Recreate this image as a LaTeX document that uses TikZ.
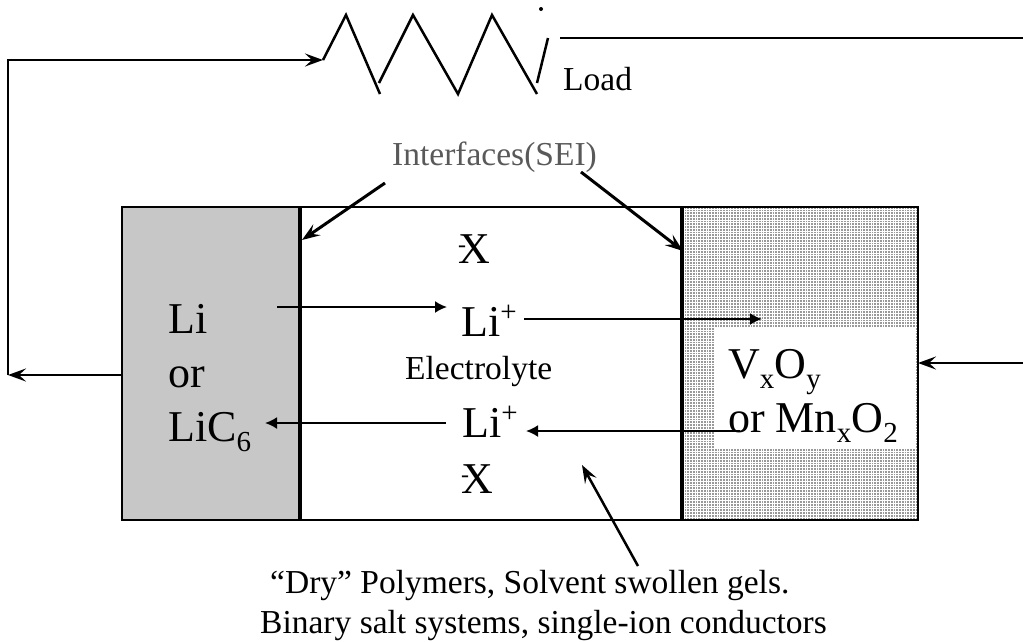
\documentclass[tikz,border=0pt]{standalone}
\usepackage{fontspec}
\setmainfont{Liberation Serif}
\usetikzlibrary{arrows.meta}
\newcommand{\bigtext}{\fontsize{44}{50}\selectfont}
\newcommand{\midtext}{\fontsize{33.5}{38}\selectfont}
\newcommand{\iup}[1]{\raisebox{15pt}{\fontsize{29}{30}\selectfont #1}}
\newcommand{\idn}[1]{\raisebox{-10pt}{\fontsize{29}{30}\selectfont #1}}
\newcommand{\dashX}{\rlap{\raisebox{11pt}{\fontsize{24}{24}\selectfont -}}X}
\tikzset{%
  >={Stealth[width=13pt,length=18pt,inset=7pt]},
  % Specifications for style of nodes:
        base/.style = {rectangle, draw=black, line width=2pt, outer sep=0pt},
       anode/.style = {base, minimum width=178pt, minimum height=313pt, fill=black!22},
      middle/.style = {base, minimum width=382pt, minimum height=313pt, fill=white},
     cathode/.style = {base, minimum width=236pt, minimum height=313pt, fill=black!40},
       label/.style = {inner sep=0pt, anchor=base west, font=\bigtext},
       small/.style = {inner sep=0pt, anchor=base west, font=\midtext},
        wire/.style = {line width=2.5pt},
         ion/.style = {line width=2pt, -{Latex[width=12pt,length=12pt]}},
}

\begin{document}
\begin{tikzpicture}[x=1pt, y=-1pt]
  \useasboundingbox (0,0) rectangle (1023,641);
  % Specification of nodes (position, etc.)
  \node (anodeBox)     [anode]   at (211,363.5) {};
  \node (electrolyte)  [middle]  at (491,363.5) {};
  \node (cathodeBox)   [cathode] at (800,363.5) {};

  % grid of the cathode
  \foreach \gx in {684,686.75,...,917}
    \draw[white, line width=1pt] (\gx,208) -- (\gx,519);
  \foreach \gy in {209,211.75,...,519}
    \draw[white, line width=1pt] (683,\gy) -- (917,\gy);
  \draw[line width=2pt] (cathodeBox.north west) rectangle (cathodeBox.south east);

  \node (cathodeText) [fill=white, minimum width=202pt, minimum height=120pt, outer sep=0pt] at (815,388) {};

  \draw[line width=3.5pt] (anodeBox.north east) -- (anodeBox.south east);
  \draw[line width=3.5pt] (cathodeBox.north west) -- (cathodeBox.south west);

  \node (li)      [label] at (168,333) {Li};
  \node (or)      [label] at (168,387) {or};
  \node (lic)     [label] at (168,441) {LiC\idn{6}};
  \node (vxoy)    [label] at (728,378) {V\idn{x}O\idn{y}};
  \node (mnxo)    [label] at (728,432) {or Mn\idn{x}O\idn{2}};
  \node (liTop)   [label] at (461,336) {Li\iup{+}};
  \node (liBot)   [label] at (462,437) {Li\iup{+}};
  \node (xTop)    [label] at (458,263) {\dashX};
  \node (xBot)    [label] at (461,493) {\dashX};
  \node (electrolyteText) [small] at (405,379) {Electrolyte};
  \node (load)      [small] at (563,90) {Load};
  \node (interfaces)[small, text=black!65] at (392,165) {Interfaces(SEI)};
  \node (dry)       [small] at (270,593) {``Dry'' Polymers, Solvent swollen gels.};
  \node (binary)    [small] at (260,633.5) {Binary salt systems, single-ion conductors};

  % free ends of the connectors
  \coordinate (resIn)     at (323,60);
  \coordinate (leftTop)   at (8,60);
  \coordinate (leftBot)   at (8,375);
  \coordinate (anodeOut)  at (122,375);
  \coordinate (wireA)     at (560,38);
  \coordinate (wireB)     at (1023,38);
  \coordinate (wireC)     at (1023,363);
  \coordinate (cathodeIn) at (918,363);
  \coordinate (seiA)      at (385,183);
  \coordinate (seiATip)   at (302,240);
  \coordinate (seiB)      at (581,172);
  \coordinate (seiBTip)   at (683,251);
  \coordinate (dryA)      at (638,566);
  \coordinate (dryTip)    at (582,465);
  \coordinate (ionA)      at (277,307);
  \coordinate (ionATip)   at (447,307);
  \coordinate (ionB)      at (524,319);
  \coordinate (ionBTip)   at (762,319);
  \coordinate (ionC)      at (740,431);
  \coordinate (ionCTip)   at (526,431);
  \coordinate (ionD)      at (446,423);
  \coordinate (ionDTip)   at (265,423);

  % Specification of lines between nodes specified above
  \draw[wire, ->]  (leftBot) -- (leftTop) -- (resIn);
  \draw[wire, <-]  (leftBot) -- (anodeOut);
  \draw[wire]      (wireA) -- (wireB);
  \draw[wire, ->]  (wireC) -- (cathodeIn);
  \draw[wire, line width=3pt, ->]  (seiA) -- (seiATip);
  \draw[wire, line width=3pt, ->]  (seiB) -- (seiBTip);
  \draw[wire, ->]  (dryA) -- (dryTip);
  \draw[ion]       (ionA) -- (ionATip);
  \draw[ion]       (ionB) -- (ionBTip);
  \draw[ion]       (ionC) -- (ionCTip);
  \draw[ion]       (ionD) -- (ionDTip);

  % the load
  \draw[wire] (resIn) -- (346,15) -- (380,94);
  \draw[wire] (379,83) -- (413,15) -- (458,94) -- (492,15) -- (537,94);
  \draw[wire] (537,83) -- (548,38);
  \fill (541,9) circle (2pt);
\end{tikzpicture}
\end{document}
